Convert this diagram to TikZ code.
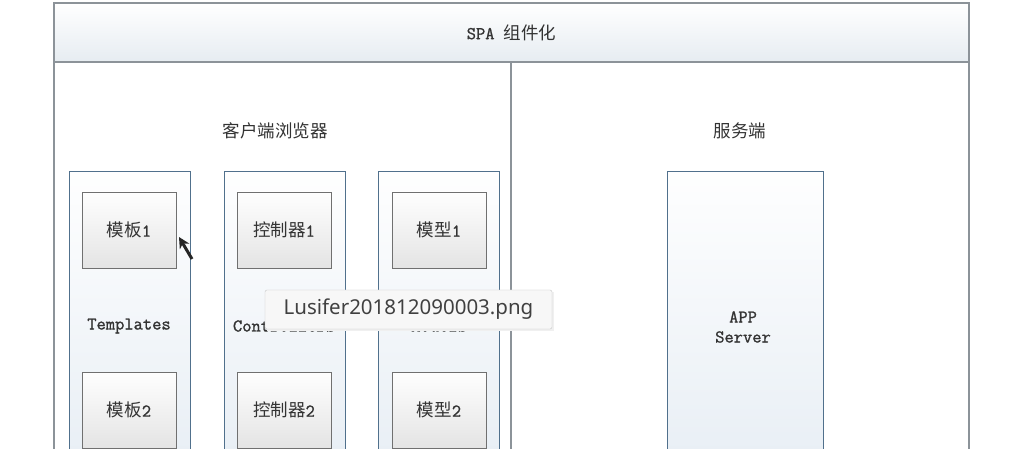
\documentclass[tikz,border=0pt]{standalone}
\usepackage{fontspec}
\newfontfamily\cjk{Noto Sans CJK SC}
\newfontfamily\uifont{Noto Sans}
\newfontfamily\monob{Latin Modern Mono}[FakeBold=1.2]
\usetikzlibrary{arrows.meta}
\definecolor{framegray}{HTML}{8C9399}
\definecolor{colstroke}{HTML}{50708C}
\definecolor{innerstroke}{HTML}{707070}
\definecolor{txt}{HTML}{333333}
\definecolor{barbot}{HTML}{E6ECF1}
\definecolor{colbot}{HTML}{E6EDF4}
\definecolor{innerbot}{HTML}{E4E4E4}
\begin{document}
\begin{tikzpicture}[x=1pt,y=-1pt,
  every node/.style={text=txt, font=\monob\fontsize{18}{21}\selectfont},
  framebox/.style={draw=framegray, line width=1.2pt},
  titlebar/.style={framebox, top color=white, bottom color=barbot, minimum width=915pt, minimum height=59pt, inner sep=0pt},
  colbox/.style={draw=colstroke, line width=1pt, top color=white!96!colbot, bottom color=colbot, minimum width=121pt, minimum height=320pt, anchor=north, inner sep=0pt},
  innerbox/.style={draw=innerstroke, line width=0.9pt, top color=white!97!innerbot, bottom color=innerbot, minimum width=94pt, minimum height=76pt, inner sep=0pt},
  lbl/.style={inner sep=1pt},
  tip/.style={draw=black!22, fill=white!97!black, rounded corners=2pt, minimum width=287pt, minimum height=39pt, inner sep=0pt, font=\uifont\fontsize{20.5}{24}\selectfont, text=black!75}
]
\useasboundingbox (0,0) rectangle (1034,449);
\clip (0,0) rectangle (1034,449);
\fill[white] (0,0) rectangle (1034,449);
% outer frame
\draw[framebox] (54,3) rectangle (969,480);
\node[titlebar] (title) at (511.5,32.5) {SPA {\cjk\fontsize{17.5}{21}\selectfont 组件化}};
\coordinate (divtop) at (511,62);
\coordinate (divbot) at (511,480);
\draw[framebox] (divtop) -- (divbot);
% section labels
\node[lbl, font=\cjk\fontsize{17.5}{21}\selectfont] (client) at (275,131) {客户端浏览器};
\node[lbl, font=\cjk\fontsize{17.5}{21}\selectfont] (server) at (740,131) {服务端};
% columns
\node[colbox] (colT) at (129.5,171) {};
\node[colbox] (colC) at (284.5,171) {};
\node[colbox] (colM) at (439,171) {};
\node[colbox, minimum width=156pt] (colS) at (745,171) {};
% inner boxes
\node[innerbox] (t1) at (129,230) {{\cjk\fontsize{17.5}{21}\selectfont 模板}1};
\node[innerbox] (t2) at (129,410) {{\cjk\fontsize{17.5}{21}\selectfont 模板}2};
\node[innerbox] (c1) at (284,230) {{\cjk\fontsize{17.5}{21}\selectfont 控制器}1};
\node[innerbox] (c2) at (284,410) {{\cjk\fontsize{17.5}{21}\selectfont 控制器}2};
\node[innerbox] (m1) at (439,230) {{\cjk\fontsize{17.5}{21}\selectfont 模型}1};
\node[innerbox] (m2) at (439,410) {{\cjk\fontsize{17.5}{21}\selectfont 模型}2};
% column labels
\node[lbl] (lt) at (129,326) {Templates};
\node[lbl] (lc) at (284,326) {Controllers};
\node[lbl] (lm) at (439,326) {Models};
\node[lbl, align=center, font=\monob\fontsize{18}{20}\selectfont] (app) at (743,327) {APP\\Server};
% tooltip overlay (screenshot artefact covering part of the labels)
\fill[black!6] (267,292) rectangle (554,331);
\node[tip] (tooltip) at (408.5,309.5) {Lusifer201812090003.png};
% mouse cursor
\coordinate (curtail) at (192,259);
\coordinate (curtip) at (179,237);
\draw[-{Stealth[length=11pt,width=11pt]}, line width=3pt, black!85] (curtail) -- (curtip);
\end{tikzpicture}
\end{document}
